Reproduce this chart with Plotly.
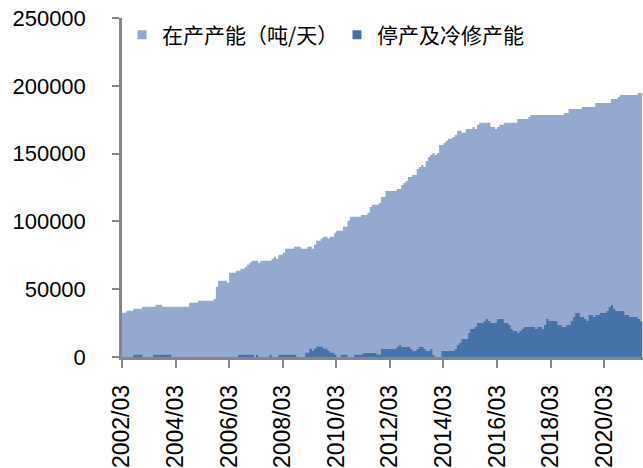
import pandas as pd
import plotly.graph_objects as go

# Monthly data, 2002/03 onward (tonnes/day)
start_month = "2002-03-01"

in_production = [
    32700, 32700, 34100, 34100, 34100, 35600, 35600, 35600, 35600, 37100, 37100, 37100,
    37100, 37100, 37100, 38600, 38600, 38600, 37100, 37100, 37100, 37100, 37100, 37100,
    37100, 37100, 37100, 37100, 37100, 37100, 40000, 40000, 40000, 40000, 41500, 41500,
    41500, 41500, 41500, 41500, 41500, 43000, 51800, 56300, 56300, 56300, 56300, 54800,
    62200, 62200, 62200, 63600, 63600, 65100, 65100, 66600, 68100, 69500, 71000, 71000,
    71000, 69500, 71000, 71000, 71000, 71000, 71000, 72500, 74000, 72500, 75400, 75400,
    76900, 79900, 79900, 79900, 79900, 81300, 81300, 81300, 79900, 79900, 79900, 81300,
    81300, 79900, 82800, 85800, 85800, 87300, 88700, 88700, 87300, 88700, 88700, 91700,
    93100, 93100, 93100, 96100, 96100, 100500, 103500, 103500, 103500, 103500, 103500, 104800,
    104800, 104800, 106300, 110700, 112200, 112200, 112200, 113600, 118000, 118000, 122500, 122500,
    122500, 122500, 122500, 123900, 123900, 126900, 128300, 129800, 132800, 132800, 134200, 134200,
    138700, 140100, 141600, 140100, 144600, 147500, 149000, 150500, 149000, 150500, 156400, 156400,
    157900, 159400, 160900, 160900, 162300, 163800, 166800, 166800, 165300, 165300, 168200, 168200,
    168200, 169700, 168200, 171200, 172700, 172700, 172700, 172700, 172700, 169700, 169700, 168200,
    169700, 171200, 171200, 172700, 172700, 172700, 172700, 172700, 172700, 175500, 175500, 175500,
    175500, 175500, 177000, 178500, 178500, 178500, 178500, 178500, 178500, 178500, 178500, 178500,
    178500, 178500, 178500, 178500, 178500, 178500, 179900, 179900, 182800, 182800, 182800, 182800,
    182800, 182800, 184300, 184300, 184300, 184300, 184300, 184300, 187300, 187300, 187300, 187300,
    187300, 187300, 187300, 190200, 190200, 190200, 191700, 193200, 193200, 193200, 193200, 193200,
    193200, 193200, 193200, 194600, 194600, 194600,
]

idle_and_cold_repair = [
    0, 0, 0, 0, 0, 1700, 1700, 1700, 1700, 0, 0, 0,
    0, 0, 1700, 1700, 1700, 1700, 1700, 1700, 1700, 1700, 0, 0,
    0, 0, 0, 0, 0, 0, 0, 0, 0, 0, 0, 0,
    0, 0, 0, 0, 0, 0, 0, 0, 0, 0, 0, 0,
    0, 0, 0, 0, 1700, 1700, 1700, 1700, 1700, 1700, 1700, 0,
    1700, 0, 0, 0, 0, 0, 1700, 0, 0, 0, 1700, 1700,
    1700, 1700, 1700, 1700, 1700, 1700, 0, 0, 0, 0, 3200, 3200,
    6100, 4700, 6100, 7600, 7600, 7600, 6100, 6100, 4700, 3200, 3200, 1700,
    0, 0, 1700, 1700, 1700, 0, 0, 0, 1600, 1600, 1600, 1600,
    3000, 3000, 3000, 3000, 3000, 3000, 1600, 1600, 5900, 5900, 5900, 5900,
    5900, 5900, 5900, 7400, 8800, 7400, 7400, 7400, 7400, 5900, 4400, 4400,
    5900, 7400, 7400, 5900, 4400, 4400, 5900, 1500, 0, 0, 0, 4400,
    4400, 4400, 4400, 4400, 4400, 5900, 8800, 10300, 13300, 13300, 13300, 17700,
    20600, 20600, 22100, 25000, 25000, 25000, 26500, 28000, 26500, 25000, 25000, 25000,
    28000, 28000, 28000, 25000, 25000, 23600, 20600, 19100, 19100, 17700, 19100, 20600,
    22100, 22100, 22100, 22100, 22100, 20600, 22100, 22100, 20600, 23600, 28000, 26500,
    26500, 26500, 26500, 23600, 23600, 22100, 22100, 23600, 23600, 26500, 29500, 32400,
    32400, 29500, 29500, 28000, 26500, 30900, 30900, 29500, 30900, 30900, 32400, 32400,
    32400, 33900, 36800, 38300, 35300, 33900, 33900, 33900, 33900, 30900, 30900, 29500,
    29500, 29500, 29500, 28000, 26500, 25000,
]

series_names = ["在产产能（吨/天）", "停产及冷修产能"]
series_colors = ["#93A9CF", "#4572A7"]

tick_dates = ["2002-03-01", "2004-03-01", "2006-03-01", "2008-03-01", "2010-03-01",
              "2012-03-01", "2014-03-01", "2016-03-01", "2018-03-01", "2020-03-01"]
tick_labels = ["2002/03", "2004/03", "2006/03", "2008/03", "2010/03",
               "2012/03", "2014/03", "2016/03", "2018/03", "2020/03"]

months = pd.date_range(start_month, periods=len(in_production), freq="MS")

fig = go.Figure()
for vals, name, color in zip([in_production, idle_and_cold_repair], series_names, series_colors):
    fig.add_trace(go.Scatter(
        x=months, y=vals, mode="lines", line=dict(width=0, color=color, shape="hv"),
        fill="tozeroy", fillcolor=color, showlegend=False, hoverinfo="x+y", name=name,
    ))
    # legend entry (square marker)
    fig.add_trace(go.Scatter(
        x=[None], y=[None], mode="markers", name=name,
        marker=dict(symbol="square", size=9, color=color),
    ))

axis_color = "#868686"
fig.update_layout(
    width=643, height=468,
    margin=dict(l=122, r=0, t=18, b=111),
    paper_bgcolor="white", plot_bgcolor="white",
    font=dict(family="Liberation Sans", color="black"),
    legend=dict(
        orientation="h", x=0.0, xanchor="left", y=1.01, yanchor="top",
        font=dict(family="Noto Sans CJK SC", size=21, color="black"),
        bgcolor="rgba(0,0,0,0)", entrywidth=170, entrywidthmode="pixels",
        itemclick=False,
    ),
    xaxis=dict(
        type="date",
        range=["2002-03-01", "2021-08-12"],
        tickvals=tick_dates, ticktext=tick_labels, tickangle=-90,
        tickfont=dict(size=23, family="Liberation Sans"),
        showline=True, linecolor=axis_color, linewidth=2.5,
        ticks="outside", ticklen=8, tickwidth=2, tickcolor=axis_color,
        showgrid=False, zeroline=False, ticklabelstandoff=8,
    ),
    yaxis=dict(
        range=[0, 250000], dtick=50000, tickformat="d",
        tickfont=dict(size=22, family="Liberation Sans"),
        showline=True, linecolor=axis_color, linewidth=2.5,
        ticks="outside", ticklen=7, tickwidth=2, tickcolor=axis_color,
        showgrid=False, zeroline=False, ticklabelstandoff=22,
    ),
)

fig.write_html(
    "out.html",
    config={"displayModeBar": False},
    post_script="document.body.style.margin='0';document.body.style.overflow='hidden';",
)
